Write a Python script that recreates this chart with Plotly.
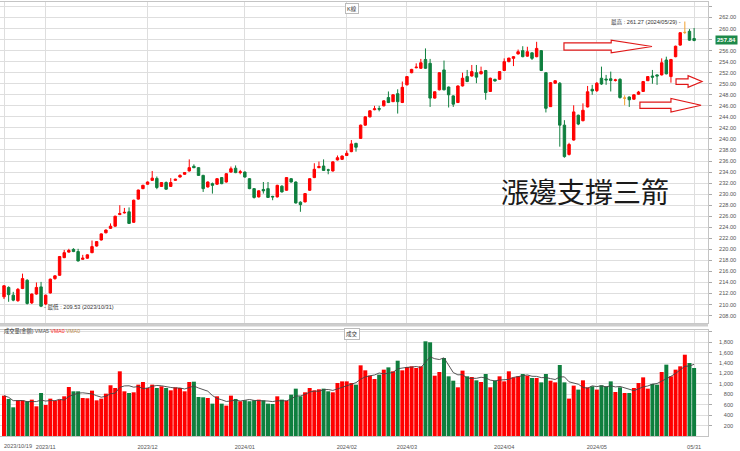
import plotly.graph_objects as go

# ---------------- data ----------------
TICK_IDX = [0, 9, 31, 52, 74, 87, 108, 128, 149]
TICK_LABELS = ["2023/10/19", "2023/11", "2023/12", "2024/01", "2024/02",
               "2024/03", "2024/04", "2024/05", "05/31"]

OPEN = [211.4, 213.1, 211.7, 210.7, 212.9, 214.4, 210.3, 211.9, 213.2,
        210.1, 212.1, 214.7, 215.3, 218.5, 219.5, 220.0, 219.6, 218.2, 218.4, 219.4,
        220.6, 221.7, 223.0, 223.8, 224.2, 226.3, 226.6, 226.8, 224.9, 229.1, 231.0,
        231.8, 232.5, 232.85, 231.4, 232.1, 231.4, 232.5, 233.1, 233.6, 234.2, 235.05,
        234.8, 233.4, 231.3, 231.9, 231.8, 233.0, 232.2, 234.0, 234.7, 233.9,
        234.0, 232.8, 231.0, 229.5, 230.85, 231.0, 229.6, 229.5, 231.45, 230.7, 232.8,
        232.2, 228.55, 228.6, 230.7, 233.0, 234.8, 235.1, 234.4, 234.2, 236.2, 236.3,
        237.0, 237.7, 239.2, 240.1, 242.5, 244.0, 245.3, 245.5, 246.0, 247.5, 246.75,
        248.2, 246.6,
        249.8, 252.0, 252.9, 252.8, 254.4, 253.7, 247.4, 248.9, 252.5, 249.4, 247.8,
        246.6, 249.6, 251.3, 251.4, 252.0, 251.8, 252.4, 248.6, 250.8, 250.8,
        252.4, 254.0, 254.6, 255.4, 256.0, 255.0, 255.6, 254.9, 256.0, 252.0, 245.85,
        250.1, 250.1, 242.5, 237.2, 239.8, 244.3, 243.3, 245.8, 249.0,
        248.75, 251.0, 250.85, 250.9, 250.6, 250.8, 247.4, 247.6, 247.2, 248.1, 248.6,
        250.55, 251.4, 251.6, 251.6, 254.3, 251.3, 254.9, 257.0, 259.3, 259.5, 258.2]
HIGH = [213.5, 213.3, 212.3, 213.0, 215.6, 214.6, 212.0, 214.0, 214.1,
        211.8, 214.7, 215.3, 218.8, 219.9, 220.1, 220.2, 220.1, 219.0, 219.1, 221.6,
        221.5, 222.9, 223.6, 224.7, 226.1, 228.0, 227.5, 227.6, 229.0, 230.8, 231.7,
        232.3, 234.2, 233.2, 232.2, 232.3, 232.9, 232.8, 233.6, 234.0, 236.3, 235.4,
        234.9, 233.5, 232.3, 232.1, 232.9, 233.1, 233.8, 235.0, 235.2, 234.4,
        234.1, 232.9, 231.1, 230.7, 232.2, 232.2, 229.7, 231.7, 231.6, 233.1, 232.9,
        232.3, 228.7, 230.2, 232.9, 235.6, 235.9, 236.3, 234.6, 235.9, 237.0, 237.0,
        237.9, 239.8, 239.3, 242.6, 244.1, 245.2, 246.0, 246.0, 247.0, 248.6, 248.1,
        249.0, 250.4,
        251.4, 252.7, 253.7, 254.5, 256.4, 254.5, 248.6, 252.1, 254.2, 249.5, 247.9,
        249.7, 252.0, 252.5, 253.4, 253.4, 253.1, 252.5, 251.1, 250.9, 252.3,
        254.6, 254.7, 255.0, 256.2, 256.8, 256.7, 255.7, 257.6, 256.1, 252.1, 250.3,
        250.6, 250.3, 243.4, 239.3, 246.1, 244.4, 246.45, 249.6, 249.8,
        250.3, 253.1, 251.6, 252.2, 250.9, 251.0, 247.9, 247.7, 248.1, 248.7, 250.5,
        251.4, 252.5, 251.7, 254.6, 254.9, 254.5, 256.9, 259.3, 261.27, 259.9, 260.1]
LOW = [211.0, 210.5, 210.6, 210.5, 212.8, 210.0, 210.1, 211.8, 209.53,
       209.9, 212.0, 214.5, 215.2, 218.4, 219.4, 219.5, 217.8, 218.1, 218.3, 219.3,
       220.5, 221.6, 222.9, 223.7, 224.1, 226.2, 226.5, 224.6, 224.8, 229.0, 230.9,
       231.7, 232.4, 230.9, 231.3, 230.8, 231.3, 232.4, 233.0, 233.5, 234.1, 234.7,
       233.3, 230.4, 231.2, 230.1, 231.7, 231.8, 232.1, 233.9, 233.8, 233.6,
       233.0, 230.9, 229.2, 229.4, 230.1, 229.3, 228.9, 229.4, 230.3, 230.6, 232.1,
       228.3, 226.8, 228.5, 230.6, 232.9, 234.7, 234.2, 233.6, 234.1, 236.1, 236.2,
       236.9, 237.6, 237.7, 240.0, 242.4, 243.9, 245.2, 245.0, 245.9, 246.5, 246.7,
       244.6, 246.5,
       249.7, 251.9, 252.8, 252.7, 252.7, 245.8, 247.3, 248.8, 248.8, 245.7, 245.8,
       246.5, 249.5, 250.3, 251.3, 250.1, 251.7, 247.1, 248.5, 250.4, 250.7,
       252.3, 253.9, 253.2, 255.3, 254.8, 254.9, 254.3, 254.8, 252.3, 244.8, 245.8,
       250.0, 238.6, 236.6, 237.0, 239.7, 242.5, 243.2, 245.7, 248.0,
       248.5, 249.8, 249.8, 248.6, 250.4, 247.3, 246.1, 245.8, 247.1, 248.0, 248.5,
       250.5, 250.0, 249.8, 251.5, 251.7, 250.2, 254.8, 256.9, 259.0, 257.8, 257.7]
CLOSE = [213.4, 211.8, 210.8, 212.75, 214.7, 210.2, 211.9, 213.1, 209.7,
         211.7, 214.6, 215.2, 218.7, 219.4, 219.8, 219.6, 217.9, 218.4, 219.0, 220.5,
         221.4, 222.8, 223.5, 224.2, 226.0, 226.5, 226.7, 224.7, 228.9, 230.75, 231.6,
         232.2, 232.9, 231.2, 232.1, 230.9, 232.1, 232.7, 233.4, 233.9, 234.8, 234.8,
         233.4, 231.0, 232.2, 231.6, 232.8, 231.9, 233.7, 234.6, 233.9, 234.05,
         233.1, 231.0, 229.4, 230.6, 230.6, 229.4, 229.5, 231.6, 230.4, 233.0, 232.2,
         228.4, 228.1, 230.1, 232.8, 234.5, 235.0, 234.3, 234.35, 235.85, 236.6, 236.9,
         237.4, 239.1, 238.5, 242.5, 244.0, 245.1, 245.45, 245.4, 246.9, 246.6, 248.0,
         246.75, 249.35,
         251.3, 252.6, 253.0, 253.8, 252.8, 247.4, 248.55, 252.0, 248.9, 248.0, 246.3,
         249.6, 251.0, 250.4, 252.2, 251.2, 252.2, 248.4, 251.0, 250.5, 252.2,
         254.0, 254.65, 254.9, 255.8, 254.9, 255.8, 254.6, 256.4, 252.4, 245.55, 250.2,
         250.55, 242.5, 236.8, 239.0, 244.9, 242.7, 245.2, 248.55, 248.7,
         250.1, 249.95, 250.7, 250.6, 250.7, 247.5, 247.4, 247.1, 248.0, 248.5, 250.4,
         251.3, 251.2, 251.4, 253.8, 251.8, 254.4, 256.8, 259.25, 259.3, 257.9, 257.84]
VOLUME = [774, 711, 551, 685, 685, 667, 698, 570, 826,
          596, 717, 679, 698, 762, 941, 858, 858, 730, 724, 871,
          685, 717, 813, 974, 922, 1242, 858, 826, 839, 986, 1037,
          922, 986, 922, 954, 922, 877, 935, 922, 858, 1037, 1043,
          749, 743, 730, 621, 762, 621, 583, 775, 711, 667,
          685, 667, 685, 698, 685, 621, 615, 762, 698, 679, 794,
          909, 762, 839, 922, 877, 897, 909, 858, 839, 1018, 1049,
          1049, 1018, 986, 1357, 1261, 1158, 1095, 1178, 1274, 1318, 1242,
          1446, 1261,
          1325, 1338, 1306, 1338, 1818, 1799, 1158, 1229, 1497, 1146, 1062,
          935, 1255, 1146, 1133, 1069, 1037, 1191, 935, 1062, 1146,
          1049, 1242, 1126, 1146, 1191, 1158, 1114, 1114, 1030, 1191, 1062,
          1030, 1363, 1030, 718, 967, 891, 1069, 935, 954,
          891, 974, 954, 1049, 845, 935, 826, 826, 922, 1018, 1126,
          909, 1000, 986, 1229, 1370, 1146, 1274, 1338, 1561, 1402, 1306]

PRICE_TICKS = list(range(208, 266, 2))
VOL_TICKS = list(range(200, 2200, 200))

HIGH_LABEL = "最高 : 261.27 (2024/05/29)"
LOW_LABEL = "最低 : 209.53 (2023/10/31)"
TITLE_TEXT = "漲邊支撐三箭"

# ---------------- styles ----------------
RED = "#ff0000"
GREEN = "#0f7f3e"
ORANGE = "#f0a030"
GRID = "#dedede"
FRAME = "#c4c4c4"
FONT = "Liberation Sans, Arial, Noto Sans CJK TC, sans-serif"
CJK = "Noto Sans CJK TC, Liberation Sans, sans-serif"

n = len(CLOSE)
x = list(range(n))

flat = [i for i in x if OPEN[i] == CLOSE[i]]
nonflat = [i for i in x if OPEN[i] != CLOSE[i]]

def pick(arr, idx):
    return [arr[i] for i in idx]

# VMA5 (5-day average of volume)
vma5 = []
for i in x:
    w = VOLUME[max(0, i - 4): i + 1]
    vma5.append(sum(w) / len(w))

vol_colors = [GREEN if CLOSE[i] < OPEN[i] else RED for i in x]

fig = go.Figure()
fig.add_trace(go.Candlestick(
    x=pick(x, nonflat), open=pick(OPEN, nonflat), high=pick(HIGH, nonflat),
    low=pick(LOW, nonflat), close=pick(CLOSE, nonflat),
    increasing=dict(line=dict(color=RED, width=1), fillcolor=RED),
    decreasing=dict(line=dict(color=GREEN, width=1), fillcolor=GREEN),
    whiskerwidth=0, xaxis="x", yaxis="y", showlegend=False, hoverinfo="skip"))
fig.add_trace(go.Candlestick(
    x=pick(x, flat), open=pick(OPEN, flat), high=pick(HIGH, flat),
    low=pick(LOW, flat), close=pick(CLOSE, flat),
    increasing=dict(line=dict(color=ORANGE, width=1), fillcolor=ORANGE),
    decreasing=dict(line=dict(color=ORANGE, width=1), fillcolor=ORANGE),
    whiskerwidth=0, xaxis="x", yaxis="y", showlegend=False, hoverinfo="skip"))
fig.add_trace(go.Bar(x=x, y=VOLUME, marker=dict(color=vol_colors, line=dict(width=0)),
                     xaxis="x2", yaxis="y2", showlegend=False, hoverinfo="skip"))
fig.add_trace(go.Scatter(x=x, y=vma5, mode="lines", line=dict(color="#444", width=0.9),
                         xaxis="x2", yaxis="y2", showlegend=False, hoverinfo="skip"))

XR = [-0.864, 152.0]
PR = [206.66, 264.81]
VR = [0, 2035]
P_DOM = [0.2604, 1.0]
V_DOM = [0.0, 0.2442]

# 264 has no label; 258 sits under the last-price tag in the reference
price_text = ["" if v in (264, 258) else f"{v:.2f}" for v in PRICE_TICKS]
vol_text = []
for v in VOL_TICKS:
    if v >= 2000:
        vol_text.append("")
    elif v >= 1000:
        vol_text.append(f"{v:,}")
    else:
        vol_text.append("\u2007\u2008" + str(v))

tickfont = dict(family=FONT, size=5.6, color="#555")

fig.update_layout(
    width=740, height=451,
    margin=dict(l=0, r=32, t=2, b=15, autoexpand=False),
    paper_bgcolor="white", plot_bgcolor="white",
    font=dict(family=FONT),
    bargap=0.14, boxgap=0.25,
    xaxis=dict(domain=[0, 1], anchor="y", range=XR, tickvals=TICK_IDX,
               showticklabels=False, showgrid=True, gridcolor=GRID, gridwidth=1,
               zeroline=False, showline=True, mirror=True, linecolor=FRAME,
               rangeslider=dict(visible=False), ticks="", automargin=False),
    xaxis2=dict(domain=[0, 1], anchor="y2", range=XR, matches="x", tickvals=TICK_IDX,
                ticktext=[""] + TICK_LABELS[1:], tickfont=tickfont,
                showgrid=True, gridcolor=GRID, zeroline=False, showline=True,
                mirror=True, linecolor=FRAME, ticks="", automargin=False,
                ticklabelstandoff=5),
    yaxis=dict(domain=P_DOM, anchor="x", side="right", range=PR, tickvals=PRICE_TICKS,
               ticktext=price_text, tickfont=tickfont, showgrid=True, gridcolor=GRID,
               zeroline=False, showline=True, mirror=True, linecolor=FRAME,
               ticks="outside", ticklen=3, tickcolor="#aaa", automargin=False,
               ticklabelstandoff=6),
    yaxis2=dict(domain=V_DOM, anchor="x2", side="right", range=VR, tickvals=VOL_TICKS,
                ticktext=vol_text, tickfont=tickfont, showgrid=True, gridcolor=GRID,
                zeroline=False, showline=True, mirror=True, linecolor=FRAME,
                ticks="outside", ticklen=3, tickcolor="#aaa", automargin=False,
                ticklabelstandoff=6),
)

# separator band between the panels
fig.add_shape(type="line", xref="paper", yref="paper", x0=0, x1=1,
              y0=0.2558, y1=0.2558, line=dict(color="#cdcdcd", width=3))

# hollow arrows (index, price geometry)
ARROWS = [
    (120.9, 131.1, 139.9, 256.75, 0.67, 1.14),
    (145.1, 147.7, 150.7, 250.4, 0.50, 1.05),
    (137.3, 144.0, 150.5, 246.1, 0.56, 1.23),
]
for x0, xb, xt, yc, bh, hh in ARROWS:
    path = (f"M {x0},{yc + bh} L {xb},{yc + bh} L {xb},{yc + hh} L {xt},{yc} "
            f"L {xb},{yc - hh} L {xb},{yc - bh} L {x0},{yc - bh} Z")
    fig.add_shape(type="path", xref="x", yref="y", path=path,
                  line=dict(color="#e01818", width=1.2), fillcolor="white")

ann = []
ann.append(dict(xref="x", yref="y", x=146.5, y=261.27, xanchor="right", yanchor="middle",
                text=HIGH_LABEL + " -", showarrow=False,
                font=dict(family=FONT, size=5.6, color="#333")))
ann.append(dict(xref="x", yref="y", x=8.1, y=209.53, xanchor="left", yanchor="middle",
                text="- " + LOW_LABEL, showarrow=False,
                font=dict(family=FONT, size=5.6, color="#333")))
ann.append(dict(xref="paper", yref="paper", x=0.8263, y=0.5645, xanchor="center",
                yanchor="middle", text=TITLE_TEXT, showarrow=False,
                font=dict(family=CJK, size=28, color="#1a1a1a")))
ann.append(dict(xref="paper", yref="y", x=1, y=CLOSE[-1], xanchor="left", yanchor="middle",
                xshift=7, text=f"<b>{CLOSE[-1]:.2f}</b>", showarrow=False, bgcolor="#1d8a4a",
                borderpad=1, font=dict(family=FONT, size=6, color="white")))
ann.append(dict(xref="paper", yref="paper", x=0.497, y=1, xanchor="center", yanchor="top",
                yshift=-1, text="K線", showarrow=False, bgcolor="white", bordercolor="#bbb",
                borderwidth=1, borderpad=1, font=dict(family=FONT, size=5.5, color="#333")))
ann.append(dict(xref="paper", yref="paper", x=0.497, y=0.2488, xanchor="center", yanchor="top",
                text="成交", showarrow=False, bgcolor="white", bordercolor="#bbb",
                borderwidth=1, borderpad=1, font=dict(family=FONT, size=5.5, color="#333")))
ann.append(dict(xref="paper", yref="paper", x=0.003, y=0.2419, xanchor="left", yanchor="middle",
                text="成交量(金額) <span style='color:#555'>VMA5</span> "
                     "<span style='color:#ff2020'>VMA0</span> "
                     "<span style='color:#c09050'>VMA0</span>",
                showarrow=False, font=dict(family=FONT, size=5.2, color="#333")))
ann.append(dict(xref="paper", yref="paper", x=0.0028, y=-0.023, xanchor="left", yanchor="middle",
                text=TICK_LABELS[0], showarrow=False, font=tickfont))
fig.update_layout(annotations=ann)

fig.write_html("out.html", config={"displayModeBar": False},
               post_script="document.body.style.margin='0';document.body.style.padding='0';")
